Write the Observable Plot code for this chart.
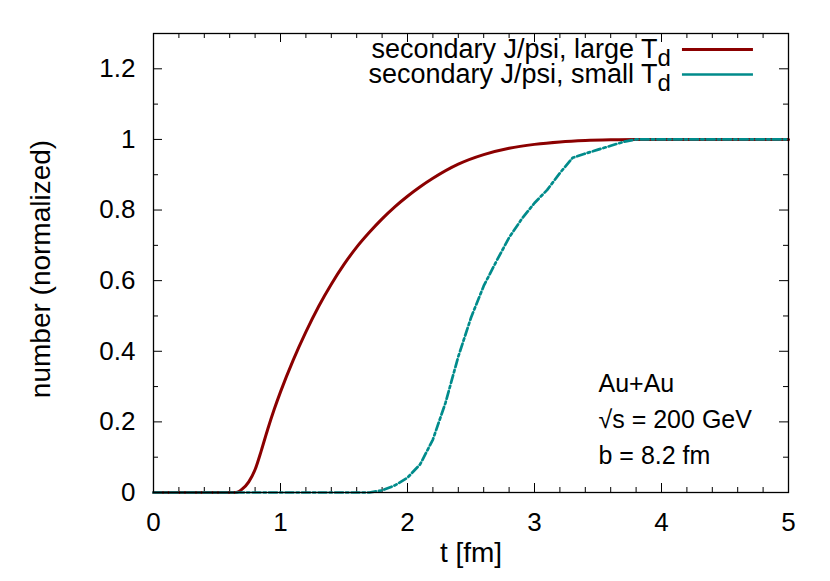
<!DOCTYPE html>
<html>
<head>
<meta charset="utf-8">
<script src="https://cdn.jsdelivr.net/npm/d3@7"></script>
<script src="https://cdn.jsdelivr.net/npm/@observablehq/plot@0.6"></script>
<style>
  html, body { margin: 0; padding: 0; background: #fff; }
  #chart { width: 830px; height: 581px; }
</style>
</head>
<body>
<div id="chart"></div>
<script>
// ---- data ----
const tLarge = [0, 0.6, 0.65, 0.7, 0.75, 0.8, 0.85, 0.9, 0.95, 1.0, 1.1, 1.2, 1.3, 1.4, 1.5, 1.6, 1.7, 1.8, 1.9, 2.0, 2.1, 2.2, 2.4, 2.6, 2.8, 3.0, 3.2, 3.4, 3.6, 3.8, 4.0, 5.0];
const nLarge = [0, 0, 0, 0.01, 0.03, 0.065, 0.12, 0.18, 0.235, 0.285, 0.375, 0.455, 0.527, 0.590, 0.646, 0.695, 0.737, 0.775, 0.809, 0.839, 0.866, 0.890, 0.930, 0.957, 0.975, 0.986, 0.993, 0.997, 0.999, 1, 1, 1];
const tSmall = [0, 1.7, 1.8, 1.9, 2.0, 2.1, 2.2, 2.3, 2.4, 2.5, 2.6, 2.7, 2.8, 2.9, 3.0, 3.1, 3.2, 3.3, 3.4, 3.5, 3.6, 3.7, 3.8, 5.0];
const nSmall = [0, 0, 0.006, 0.02, 0.042, 0.08, 0.15, 0.255, 0.385, 0.495, 0.585, 0.655, 0.722, 0.775, 0.82, 0.857, 0.905, 0.948, 0.96, 0.971, 0.982, 0.993, 1.0, 1.0];

const seriesNames = ["secondary J/psi, large T", "secondary J/psi, small T"];
const seriesSub = ["d", "d"];
const xMajor = [0, 1, 2, 3, 4, 5];
const xMinor = [0.2, 0.4, 0.6, 0.8, 1.2, 1.4, 1.6, 1.8, 2.2, 2.4, 2.6, 2.8, 3.2, 3.4, 3.6, 3.8, 4.2, 4.4, 4.6, 4.8];
const yMajor = [0, 0.2, 0.4, 0.6, 0.8, 1, 1.2];
const yMinor = [0.1, 0.3, 0.5, 0.7, 0.9, 1.1];
const annotations = ["Au+Au", "\u221As = 200 GeV", "b = 8.2 fm"];
const xLabel = "t [fm]";
const yLabel = "number (normalized)";

// ---- layout / style ----
const W = 830, H = 581;
const mL = 153, mR = 42, mT = 33, mB = 89;
const plotW = W - mL - mR, plotH = H - mT - mB;
const colors = ["#8b0000", "#008b8b"];
const DASH = "8,3,2.5,3";
const FONT = "Liberation Sans, Arial, Helvetica, sans-serif";
const majorLen = 9, minorLen = 5;
const fmt = d3.format("~g");

const large = tLarge.map((t, i) => ({t, n: nLarge[i]}));
const small = tSmall.map((t, i) => ({t, n: nSmall[i]}));

// legend layout (in plot coordinates)
const legend = [
  {name: seriesNames[0], sub: seriesSub[0], y: 1.2547, color: colors[0], dash: null, w: 3},
  {name: seriesNames[1], sub: seriesSub[1], y: 1.1839, color: colors[1], dash: DASH, w: 2.7}
];
const legTextX = 3.969, legLineX1 = 4.165, legLineX2 = 4.724;
const annX = 3.504, annY = [0.306, 0.204, 0.102];
const ann = annotations.map((s, i) => ({s, y: annY[i]}));

const tickMarks = (vals, len) => [
  Plot.tickX(vals, {x: d => d, insetTop: plotH - len, stroke: "black", strokeWidth: 1}),
  Plot.tickX(vals, {x: d => d, insetBottom: plotH - len, stroke: "black", strokeWidth: 1})
];
const tickMarksY = (vals, len) => [
  Plot.tickY(vals, {y: d => d, insetRight: plotW - len, stroke: "black", strokeWidth: 1}),
  Plot.tickY(vals, {y: d => d, insetLeft: plotW - len, stroke: "black", strokeWidth: 1})
];

const chart = Plot.plot({
  width: W, height: H,
  marginLeft: mL, marginRight: mR, marginTop: mT, marginBottom: mB,
  style: {fontFamily: FONT, fontSize: "26px", color: "black", background: "white"},
  x: {domain: [0, 5]},
  y: {domain: [0, 1.3]},
  marks: [
    ...tickMarks(xMajor, majorLen),
    ...tickMarks(xMinor, minorLen),
    ...tickMarksY(yMajor, majorLen),
    ...tickMarksY(yMinor, minorLen),
    Plot.axisX(xMajor, {tickSize: 0, tickPadding: 20, tickFormat: fmt, label: null, fontSize: 26}),
    Plot.axisY(yMajor, {tickSize: 0, tickPadding: 18, tickFormat: fmt, label: null, fontSize: 26}),
    Plot.text([xLabel], {frameAnchor: "bottom", text: d => d, dy: 69, fontSize: 28, fill: "black"}),
    Plot.text([yLabel], {frameAnchor: "left", text: d => d, textAnchor: "middle", rotate: -90, dx: -112, dy: 6, fontSize: 28, fill: "black"}),
    Plot.line(large, {x: "t", y: "n", stroke: colors[0], strokeWidth: 3, curve: "monotone-x"}),
    Plot.line(small, {x: "t", y: "n", stroke: colors[1], strokeWidth: 2.7, strokeDasharray: DASH}),
    Plot.frame({stroke: "black", strokeWidth: 1.3}),
    // legend
    Plot.ruleY(legend, {y: "y", x1: legLineX1, x2: legLineX2, stroke: "color", strokeWidth: "w", strokeDasharray: d => d.dash}),
    Plot.text(legend, {x: legTextX, y: "y", text: "name", textAnchor: "end", fontSize: 27, fill: "black", dy: 0}),
    Plot.text(legend, {x: legTextX, y: "y", text: "sub", textAnchor: "start", fontSize: 24, fill: "black", dy: 9, dx: 0}),
    // annotation
    Plot.text(ann, {x: annX, y: "y", text: "s", textAnchor: "start", fontSize: 25, fill: "black"})
  ]
});
document.getElementById("chart").appendChild(chart);
</script>
</body>
</html>
